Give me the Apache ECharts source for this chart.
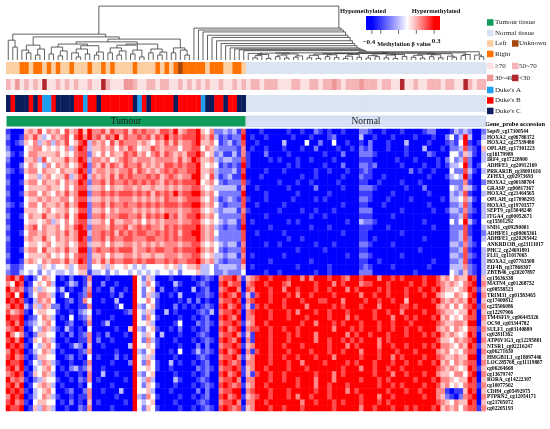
<!DOCTYPE html>
<html>
<head>
<meta charset="utf-8">
<title>Methylation heatmap</title>
<script src="https://cdn.jsdelivr.net/npm/echarts@6.0.0/dist/echarts.min.js"></script>
<style>
html, body { margin: 0; padding: 0; background: #fff; }
#main { width: 550px; height: 429px; }
</style>
</head>
<body>
<div id="main"></div>
<script>
var myChart = echarts.init(document.getElementById('main'));

// probes, top to bottom
var probes = [
    'Sept9_cg17300544', 'HOXA2_cg06786372', 'HOXA2_cg27539480', 'OPLAH_cg17301223', 'cg16179989',
    'IRF4_cg17228900', 'ADHFE1_cg20912169', 'PRKAR1B_cg18001616', 'ZFHX3_cg02973693', 'HOXA2_cg00188704',
    'GRASP_cg00817367', 'HOXA2_cg21464565', 'OPLAH_cg17098295', 'HOXA5_cg19703577', 'SEPT9_cg15048248',
    'ITGA4_cg00052671', 'cg15501292', 'SND1_cg09290001', 'ADHFE1_cg08065361', 'ADHFE1_cg20295442',
    'ANKRD13B_cg23111017', 'PHC2_cg24691891', 'FLI1_cg11017065', 'HOXA2_cg07763508', 'EIF4B_cg17868307',
    'ZBTB46_cg20207897', 'cg15636338', 'MATN4_cg01268752', 'cg08558523', 'TRIM31_cg01583465',
    'cg17400812', 'cg25506086', 'cg12297966', 'TM4SF19_cg06445326', 'OC90_cg03344782',
    'SULF1_cg03140889', 'cg02811362', 'ATP6V1G3_cg12295801', 'NTSR1_cg02216247', 'cg06271650',
    'HMGB1L1_cg18097446', 'LOC285768_cg11119887', 'cg06264668', 'cg13679747', 'RORA_cg14222307',
    'cg10077502', 'CDH4_cg05492975', 'PTPRN2_cg12054171', 'cg21765072', 'cg02205193'
];

// one string per probe, one char per sample (0 = strongest hypo ... 8 = strongest hyper)
var methylRows = [
    '1000565746 5647568586 6757667576 7665776856 7785462232 3170001000 0010010021 0100100022 1001000100 0012200013 232002',
    '2001657534 6567478686 7576857667 6757686767 7786573121 2280100100 0001000100 0120000030 0100010000 1000100241 383003',
    '1012546356 3657457836 5647576665 6546575756 6785564123 1270010000 0300004002 0040010010 2000100030 0001000121 481014',
    '2000456645 4546368735 5656465764 5576566646 6774653222 2160100100 0100010020 0001001021 2000100010 0030001022 372105',
    '3101466555 5645467725 4646557675 6467576565 7786452311 3161000200 0010000000 1000200022 2100000010 0002100044 253103',
    '2000556374 5557568736 6564567656 6656666575 6875563233 2271000010 1000100100 0010000011 1000001000 1000010242 372003',
    '1002465436 4656457826 5757657667 5656577676 7785454121 2181000000 0010100000 1000200022 1200000100 0010010133 482014',
    '2101566465 5465568725 6656566757 6565676766 7785563222 3170000100 0100000010 0100010012 1000000002 0100100042 273103',
    '1000455356 4557357836 5657576766 6767567656 6885473123 1180001000 0000010010 0000100021 1001000000 0001000134 382004',
    '2001566465 5646568726 6757667676 7676576767 7784564212 2271000000 1000100100 0001000011 0010000100 0100000022 261002',
    '1000455556 5546467735 5646556656 5565565656 6775453333 3160010000 0010000020 0000100022 2100000010 0020000043 253104',
    '2001566465 4657568826 6767677767 6757676867 7886564222 2280000100 0000100000 0100000011 1000010000 0001000032 371003',
    '1000455656 5566467735 5656566656 5656576656 7775463123 2171000100 0001000010 1000000022 1000100001 0000001033 463104',
    '2101466465 5657568826 6757667667 6767677767 7886564212 2270010000 0100000000 0000100011 0001000000 0001000022 372003',
    '1000555456 4556457725 5646566656 5656566656 6775453233 3161000000 1000010010 0010000022 2000000100 0000100133 262103',
    '2001465575 5657468826 6756677667 5767686756 7786564222 2270000100 0000000100 1000000011 1000010000 0000000022 371003',
    '1000455456 3546467735 5647556656 4656566656 6775454323 3170100000 0010100000 0000010032 2100000000 0010000042 483104',
    '2000567465 5646578726 6657667567 6766576767 7786563212 2180000010 0000000100 0100000011 1000100000 0000100022 271003',
    '1001466565 5657568836 6767576767 7667676757 7886564222 2270010000 0100000000 0000100011 0000000100 0000000022 371002',
    '2000565575 4656568726 6757667766 6776676767 7786563222 2270000000 0010010000 0000000011 0100000000 0010000022 372003',
    '1000455456 4556457735 5646556656 5656566656 6775454323 3160000100 1000000010 0010000022 1000010000 0000000033 262104',
    '1001566475 5657558826 7667677756 6767766767 7786564212 2270000000 0000100000 1000000011 0000000000 0100000022 371003',
    '2000455556 4546467725 5646556656 5565566656 6775453323 3160100000 0100000000 0000010022 1000000100 0000000033 272103',
    '1001565465 6657568726 5757667767 6776676766 7786563212 2270000010 0000000100 0000000011 0010000000 0000100022 371003',
    '3112444354 3445346624 4535445434 3444454534 5563342333 3250100000 0000100000 0100000012 1000010000 0001000033 362103',
    '2113434243 4334345513 3424344343 4343443424 4453342232 2240000100 1000000010 0100000022 2000000000 1000000043 252103',
    '7868102465 4010200160 0010000084 2530001000 0101210677 8615678878 8878868688 8788768878 8868878788 8878875646 558705',
    '6487014546 3001320150 0200100084 3641000310 0012100786 7706788788 8768888878 8868788867 7888788887 8878876565 467806',
    '8676125354 4130100260 1002001084 2450200100 0301200678 8607688878 8688788878 8788868788 8878788878 8788786554 568715',
    '7848024665 3014001270 0001020084 2532001030 0011210787 6815178878 8878688788 8878888868 8788788878 8878865446 547806',
    '8787103656 4001201640 0100300084 4641000010 2020100677 8706788878 8788878887 7888688887 8878878858 8888786565 658705',
    '6878315365 2201001160 0000140083 2451000201 0101210786 7815178788 8788886888 8878788878 8868888778 7888865646 467816',
    '7567104554 4100102340 1000001284 3530030100 0012130677 8706788878 8878688878 8788878888 8788788688 8878876554 558705',
    '8778012465 3010401250 0001000084 2641000010 0101200787 6806688878 8878887888 8788868788 8788868878 7888785645 467706',
    '7868123456 4001200160 0130000084 4530000140 0021210677 8715688788 8888878868 8878788878 8878878887 8888876556 658805',
    '6787014365 3103101040 0000100583 2451001020 0101200786 7806778878 8788788888 8868887878 8878878878 8788865646 547716',
    '8646102554 4010201260 1020001084 3540300010 0012100677 8615188878 8878788868 8888868788 7888788878 8878786565 458705',
    '7868015465 3001001160 2001000084 2631000100 0101210787 6806188878 8878888868 8788787878 8868788888 8888875546 567806',
    '8787104356 4100132050 0100000384 4541000010 0020200677 8715688878 8788878888 8788868788 8868878878 8878786654 658715',
    '6878013465 3010001260 0000100083 2450001040 0131210786 7806178878 8878888788 8788788868 8878887888 7888865645 467706',
    '7867102554 4001201040 1000201084 3530000100 0012100677 8615688878 8788788878 8868888878 8878868788 8878876556 558805',
    '8778014365 3100100160 0001000284 2641003010 0101200787 6706688878 8878868888 7888878788 8788878878 8788785646 567706',
    '7868103456 4010231250 0100000084 4541001000 0021210677 8715688788 8878887888 8888788868 8788788788 8888876565 458715',
    '6787015465 3001001060 0300100083 2450000100 0101200786 7815178878 8788888878 8868788888 8788868878 8878865546 647806',
    '8676102354 4100102160 1000001084 3630000310 0012100677 8606688878 8788788868 8868888878 8878788888 7888786654 558705',
    '7868014565 3010001040 0001000084 2541000100 0101210787 6715688788 8888788868 8788878888 8878878788 8878875645 467716',
    '8787103456 4001200260 0100030084 4530001000 0020200677 8806788878 8878888878 8788868788 8888788878 8788866101 158705',
    '6878013465 3100101160 0000100083 2641000010 0101200786 7815678878 8878688788 8788888878 8868878888 8878865210 267806',
    '7867104554 4010201050 1000001084 3450000100 0012100677 8606688788 8888868878 8878788878 8878788888 8888876546 558705',
    '8778015365 3001002160 0001000084 2541000010 0101210787 6715688878 8788878888 8878888868 8788878878 7888785656 467716'
];
var levelValues = {'0': -0.4, '1': -0.3, '2': -0.2, '3': -0.1, '4': 0, '5': 0.08, '6': 0.15, '7': 0.22, '8': 0.3};

// sample annotations, one char per sample (- = not recorded)
var tissue = 'TTTTTTTTTT TTTTTTTTTT TTTTTTTTTT TTTTTTTTTT TTTTTTTTTT TTTNNNNNNN NNNNNNNNNN NNNNNNNNNN NNNNNNNNNN NNNNNNNNNN NNNNNN';
var side   = 'LLLRRLRRLR LRLLRLLLRL LRLRLLLLRL LLLRLRLRUR RRRRLRRRLL RRL------- ---------- ---------- ---------- ---------- ------';
var age    = 'bacababada abababaaba adbaaaccba abbabbaaba bababaabaa bababbabbb aaabbaabba bbcbabbbcb bbabbaadaa baabbbabba adbabb';
var dukes  = 'CBCCCBCBAA BCCCCBBABB CBBBBBBBCA BCBBBBBCBB BBBACCBBCB BCC------- ---------- ---------- ---------- ---------- ------';

// cluster merge height between neighbouring samples i and i+1
var dendroGaps = [
    3.6, 2.35, 4.7, 1.8, 1.3, 2.7, 0.9, 2.0, 4.2, 1.1,
    2.35, 0.75, 1.65, 2.9, 1.3, 0.55, 2.0, 1.1, 2.6, 0.9,
    1.45, 3.3, 1.3, 2.2, 0.9, 1.65, 2.7, 1.1, 1.8, 0.55,
    2.9, 1.3, 2.0, 0.9, 1.45, 3.8, 1.3, 2.2, 1.8, 0.9,
    9.8, 5.8, 5.45, 5.1, 4.5, 4.1, 3.5, 3.0, 2.6, 2.2,
    2.0, 1.85, 1.7, 1.2, 0.4, 0.8, 1.0, 0.3, 1.25, 0.6,
    0.9, 0.35, 1.1, 0.5, 0.75, 1.3, 0.4, 0.85, 0.3, 1.05,
    0.6, 0.95, 0.45, 1.15, 0.3, 0.7, 1.0, 0.5, 1.2, 0.35,
    0.8, 0.6, 1.1, 0.4, 0.9, 0.3, 1.0, 0.65, 1.25, 0.5,
    0.85, 0.35, 1.05, 0.6, 0.95, 0.4, 1.15, 0.7, 0.5, 1.3,
    0.8, 1.0, 1.5, 0.9, 0.6
];

var heatStops = [-0.4, -0.3, -0.2, -0.1, 0, 0.1, 0.2, 0.3];
var heatColors = ['#0000ff', '#3d3dff', '#7a7aff', '#bcbcff', '#ffffff', '#ffb0b0', '#ff5e5e', '#ff0000'];
var tissueColors = {T: '#0f9b5c', N: '#d7e3f4'};
var tissueNames = {T: 'Tumour', N: 'Normal'};
var sideColors = {L: '#fccfa2', R: '#ff7100', U: '#a5470c', '-': '#dae4f2'};
var ageColors = {a: '#fbe1e1', b: '#f5b4b6', c: '#ee9799', d: '#b3282d', '-': '#dae4f2'};
var dukesColors = {A: '#1e9ff0', B: '#ff0000', C: '#0b1d5c', '-': '#dae4f2'};
var serif = 'Liberation Serif, Times New Roman, serif';

function clean(s) {
    return s.replace(/ /g, '');
}
tissue = clean(tissue);
side = clean(side);
age = clean(age);
dukes = clean(dukes);
var nSample = tissue.length;

var samples = [];
var tCount = 0, nCount = 0;
for (var i = 0; i < nSample; i++) {
    samples.push(tissue[i] === 'T' ? 'T' + (++tCount) : 'N' + (++nCount));
}

var heatData = [];
methylRows.forEach(function (row, r) {
    var s = clean(row);
    for (var c = 0; c < s.length; c++) {
        heatData.push([c, r, levelValues[s[c]]]);
    }
});

// dendrogram: split each range at its largest gap
function buildTree(lo, hi) {
    if (lo === hi) {
        return {lo: lo, hi: hi, h: 0};
    }
    var k = lo;
    for (var i = lo; i < hi; i++) {
        if (dendroGaps[i] > dendroGaps[k]) k = i;
    }
    return {lo: lo, hi: hi, h: dendroGaps[k], left: buildTree(lo, k), right: buildTree(k + 1, hi)};
}
var segments = [];
function walk(node) {
    if (!node.left) return;
    var xl = (node.left.lo + node.left.hi) / 2;
    var xr = (node.right.lo + node.right.hi) / 2;
    segments.push([xl, node.h, xr, node.h]);
    segments.push([xl, node.h, xl, node.left.h]);
    segments.push([xr, node.h, xr, node.right.h]);
    walk(node.left);
    walk(node.right);
}
walk(buildTree(0, nSample - 1));

var tissueRuns = [];
for (var j = 0; j < nSample; j++) {
    var last = tissueRuns[tissueRuns.length - 1];
    if (last && last.code === tissue[j]) {
        last.end = j;
    } else {
        tissueRuns.push({code: tissue[j], start: j, end: j});
    }
}

function sampleIndexData() {
    var d = [];
    for (var i = 0; i < nSample; i++) d.push([i, 0.5]);
    return d;
}

function stripRenderer(codes, colors) {
    return function (params, api) {
        var i = params.dataIndex;
        var p0 = api.coord([i - 0.5, 1]);
        var p1 = api.coord([i + 0.5, 0]);
        return {
            type: 'rect',
            shape: {x: p0[0], y: p0[1], width: p1[0] - p0[0] + 0.4, height: p1[1] - p0[1]},
            style: {fill: colors[codes[i]]}
        };
    };
}

// colour bar
var cbLeft = 366, cbTop = 16, cbW = 74, cbH = 14;
var cbMin = -0.466, cbMax = 0.366;
function cbX(v) {
    return cbLeft + (v - cbMin) / (cbMax - cbMin) * cbW;
}
var cbGradient = [{offset: 0, color: heatColors[0]}];
heatStops.forEach(function (v, k) {
    cbGradient.push({offset: (v - cbMin) / (cbMax - cbMin), color: heatColors[k]});
});
cbGradient.push({offset: 1, color: heatColors[heatColors.length - 1]});
var cbTicks = [-0.4, -0.3, -0.1, 0.1, 0.3];

var graphics = [
    {type: 'rect', shape: {x: cbLeft, y: cbTop, width: cbW, height: cbH},
        style: {fill: new echarts.graphic.LinearGradient(0, 0, 1, 0, cbGradient)}},
    {type: 'text', x: 363, y: 11, style: {text: 'Hypomethylated', align: 'center', verticalAlign: 'middle',
        fontSize: 6.5, fontWeight: 'bold', fontFamily: serif, fill: '#111'}},
    {type: 'text', x: 436, y: 11, style: {text: 'Hypermethylated', align: 'center', verticalAlign: 'middle',
        fontSize: 6.5, fontWeight: 'bold', fontFamily: serif, fill: '#111'}},
    {type: 'text', x: 369, y: 42, style: {text: '\u22120.4', align: 'center', verticalAlign: 'middle',
        fontSize: 7, fontWeight: 'bold', fontFamily: serif, fill: '#111'}},
    {type: 'text', x: 436, y: 41, style: {text: '0.3', align: 'center', verticalAlign: 'middle',
        fontSize: 7, fontWeight: 'bold', fontFamily: serif, fill: '#111'}},
    {type: 'text', x: 404, y: 44, style: {text: 'Methylation \u03b2 value', align: 'center', verticalAlign: 'middle',
        fontSize: 6.3, fontWeight: 'bold', fontFamily: serif, fill: '#111'}},
    {type: 'text', x: 485, y: 124.5, style: {text: 'Gene_probe accession', align: 'left', verticalAlign: 'middle',
        fontSize: 6.4, fontWeight: 'bold', fontFamily: serif, fill: '#000'}}
];
cbTicks.forEach(function (v) {
    graphics.push({type: 'line', shape: {x1: cbX(v), y1: cbTop + cbH, x2: cbX(v), y2: cbTop + cbH + 4},
        style: {stroke: '#333', lineWidth: 0.7}});
});

// legend on the right
var legendRows = [
    [['Tumour tissue', tissueColors.T]],
    [['Normal tissue', tissueColors.N]],
    [['Left', sideColors.L], ['Unknown', sideColors.U]],
    [['Right', sideColors.R]],
    [['\u226570', ageColors.a], ['50~70', ageColors.b]],
    [['30~49', ageColors.c], ['<30', ageColors.d]],
    [["Duke's A", dukesColors.A]],
    [["Duke's B", dukesColors.B]],
    [["Duke's C", dukesColors.C]]
];
var legendY = [22.5, 33, 43.5, 54, 66, 78, 90, 100.5, 111];
var legendX = [[487, 495], [512, 519]];
legendRows.forEach(function (row, r) {
    row.forEach(function (item, c) {
        graphics.push({type: 'rect', shape: {x: legendX[c][0], y: legendY[r] - 3.3, width: 6.5, height: 6.5},
            style: {fill: item[1]}});
        graphics.push({type: 'text', x: legendX[c][1], y: legendY[r], style: {text: item[0], align: 'left',
            verticalAlign: 'middle', fontSize: 7, fontFamily: serif, fill: '#222'}});
    });
});

var gl = 6, gw = 480;
var hiddenValueX = function (g) {
    return {type: 'value', gridIndex: g, min: -0.5, max: nSample - 0.5, show: false};
};
var hiddenValueY = function (g, max) {
    return {type: 'value', gridIndex: g, min: 0, max: max, show: false};
};

option = {
    backgroundColor: '#fff',
    animation: false,
    grid: [
        {left: gl, top: 129, width: gw, height: 282},
        {left: gl, top: 5, width: gw, height: 55},
        {left: gl, top: 62, width: gw, height: 12},
        {left: gl, top: 79, width: gw, height: 11},
        {left: gl, top: 95, width: gw, height: 17},
        {left: gl, top: 116, width: gw, height: 10.5}
    ],
    xAxis: [
        {type: 'category', gridIndex: 0, data: samples, show: false},
        hiddenValueX(1), hiddenValueX(2), hiddenValueX(3), hiddenValueX(4), hiddenValueX(5)
    ],
    yAxis: [
        {
            type: 'category', gridIndex: 0, data: probes, inverse: true, position: 'right',
            axisLine: {show: false}, axisTick: {show: false}, splitLine: {show: false},
            axisLabel: {interval: 0, margin: 1, fontSize: 5.3, fontWeight: 'bold', fontFamily: serif, color: '#000'}
        },
        hiddenValueY(1, 10), hiddenValueY(2, 1), hiddenValueY(3, 1), hiddenValueY(4, 1), hiddenValueY(5, 1)
    ],
    visualMap: {
        show: false,
        type: 'continuous',
        seriesIndex: 0,
        min: -0.4,
        max: 0.3,
        inRange: {color: heatColors}
    },
    graphic: {elements: graphics},
    series: [
        {
            type: 'heatmap',
            xAxisIndex: 0,
            yAxisIndex: 0,
            data: heatData,
            progressive: 0,
            emphasis: {disabled: true}
        },
        {
            type: 'custom',
            xAxisIndex: 1,
            yAxisIndex: 1,
            data: segments,
            silent: true,
            renderItem: function (params, api) {
                var a = api.coord([api.value(0), api.value(1)]);
                var b = api.coord([api.value(2), api.value(3)]);
                return {type: 'line', shape: {x1: a[0], y1: a[1], x2: b[0], y2: b[1]},
                    style: {stroke: '#3a3a3a', lineWidth: 0.8}};
            }
        },
        {type: 'custom', xAxisIndex: 2, yAxisIndex: 2, data: sampleIndexData(), silent: true,
            renderItem: stripRenderer(side, sideColors)},
        {type: 'custom', xAxisIndex: 3, yAxisIndex: 3, data: sampleIndexData(), silent: true,
            renderItem: stripRenderer(age, ageColors)},
        {type: 'custom', xAxisIndex: 4, yAxisIndex: 4, data: sampleIndexData(), silent: true,
            renderItem: stripRenderer(dukes, dukesColors)},
        {
            type: 'custom',
            xAxisIndex: 5,
            yAxisIndex: 5,
            data: tissueRuns.map(function (r) { return [r.start, r.end]; }),
            silent: true,
            renderItem: function (params, api) {
                var run = tissueRuns[params.dataIndex];
                var p0 = api.coord([run.start - 0.5, 1]);
                var p1 = api.coord([run.end + 0.5, 0]);
                return {
                    type: 'group',
                    children: [
                        {type: 'rect', shape: {x: p0[0] + 0.5, y: p0[1], width: p1[0] - p0[0] - 1, height: p1[1] - p0[1]},
                            style: {fill: tissueColors[run.code], stroke: run.code === 'N' ? '#b8cae3' : null, lineWidth: 0.6}},
                        {type: 'text', style: {text: tissueNames[run.code], x: (p0[0] + p1[0]) / 2, y: (p0[1] + p1[1]) / 2 + 0.5,
                            align: 'center', verticalAlign: 'middle', fontSize: 9.5, fontFamily: serif, fill: '#1a1a1a'}}
                    ]
                };
            }
        }
    ]
};
myChart.setOption(option);

window.onresize = function () {
    if (myChart) {
        myChart.resize();
    }
};
</script>
</body>
</html>
